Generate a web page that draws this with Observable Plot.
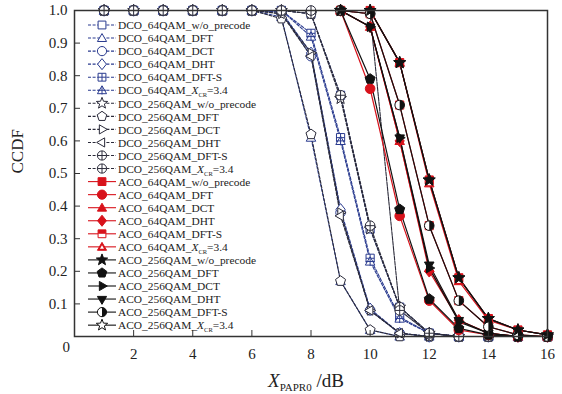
<!DOCTYPE html>
<html>
<head>
<meta charset="utf-8">
<script src="https://cdn.jsdelivr.net/npm/d3@7"></script>
<script src="https://cdn.jsdelivr.net/npm/@observablehq/plot@0.6"></script>
<style>
  html, body { margin: 0; padding: 0; background: #fff; }
  #chart { width: 562px; height: 394px; }
</style>
</head>
<body>
<div id="chart"></div>
<script>
// ---------- data ----------
const dcoX = [1,2,3,4,5,6,7,8,9,10,11,12,13,14,15,16];
const acoX = [9,10,11,12,13,14,15,16];

const dco64_wo   = [1,1,1,1,1,1,1,0.99,0.74,0.33,0.09,0.01,0,0,0,0];
const dco64_dft  = [1,1,1,1,1,1,0.98,0.61,0.17,0.02,0,0,0,0,0,0];
const dco64_dct  = [1,1,1,1,1,1,0.995,0.86,0.38,0.08,0.01,0,0,0,0,0];
const dco64_dht  = [1,1,1,1,1,1,0.995,0.87,0.39,0.085,0.01,0,0,0,0,0];
const dco64_dfts = [1,1,1,1,1,1,1,0.93,0.61,0.24,0.06,0.01,0,0,0,0];
const dco64_xcr  = [1,1,1,1,1,1,1,0.92,0.60,0.23,0.055,0.01,0,0,0,0];
const dco256_wo   = [1,1,1,1,1,1,1,0.99,0.73,0.33,0.09,0.01,0,0,0,0];
const dco256_dft  = [1,1,1,1,1,1,0.975,0.62,0.17,0.02,0,0,0,0,0,0];
const dco256_dct  = [1,1,1,1,1,1,0.99,0.87,0.38,0.08,0.01,0,0,0,0,0];
const dco256_dht  = [1,1,1,1,1,1,0.99,0.86,0.37,0.08,0.01,0,0,0,0,0];
const dco256_dfts = [1,1,1,1,1,1,1,0.99,0.74,0.34,0.09,0.01,0,0,0,0];
const dco256_xcr  = [1,1,1,1,1,1,1,1,1,0.99,0.08,0.01,0,0,0,0];

const aco64_wo   = [1,1,0.84,0.48,0.18,0.055,0.02,0.005];
const aco64_dft  = [1,0.76,0.37,0.11,0.02,0.005,0,0];
const aco64_dct  = [1,0.95,0.60,0.21,0.05,0.01,0,0];
const aco64_dht  = [1,0.95,0.60,0.20,0.05,0.01,0,0];
const aco64_dfts = [1,0.99,0.71,0.34,0.11,0.03,0.005,0];
const aco64_xcr  = [1,1,0.84,0.47,0.17,0.05,0.02,0.005];
const aco256_wo   = [1,1,0.84,0.48,0.18,0.055,0.02,0.005];
const aco256_dft  = [1,0.79,0.39,0.115,0.025,0.005,0,0];
const aco256_dct  = [1,0.95,0.61,0.21,0.045,0.01,0,0];
const aco256_dht  = [1,0.95,0.61,0.22,0.05,0.01,0,0];
const aco256_dfts = [1,0.99,0.71,0.34,0.11,0.03,0.005,0];
const aco256_xcr  = [1,1,0.84,0.48,0.18,0.055,0.02,0.005];

const seriesNames = [
  "DCO_64QAM_w/o_precode","DCO_64QAM_DFT","DCO_64QAM_DCT","DCO_64QAM_DHT","DCO_64QAM_DFT-S","DCO_64QAM_XCR=3.4",
  "DCO_256QAM_w/o_precode","DCO_256QAM_DFT","DCO_256QAM_DCT","DCO_256QAM_DHT","DCO_256QAM_DFT-S","DCO_256QAM_XCR=3.4",
  "ACO_64QAM_w/o_precode","ACO_64QAM_DFT","ACO_64QAM_DCT","ACO_64QAM_DHT","ACO_64QAM_DFT-S","ACO_64QAM_XCR=3.4",
  "ACO_256QAM_w/o_precode","ACO_256QAM_DFT","ACO_256QAM_DCT","ACO_256QAM_DHT","ACO_256QAM_DFT-S","ACO_256QAM_XCR=3.4"
];
const xTicks = [2,4,6,8,10,12,14,16];
const yTicks = [0.1,0.2,0.3,0.4,0.5,0.6,0.7,0.8,0.9,1.0];

// ---------- symbols ----------
const rad = s => Math.sqrt(s / Math.PI);
const poly = (c, pts) => { c.moveTo(pts[0][0], pts[0][1]); for (let i = 1; i < pts.length; i++) c.lineTo(pts[i][0], pts[i][1]); c.closePath(); };
const reg = (n, r, rot) => d3.range(n).map(i => { const a = rot + i * 2 * Math.PI / n; return [r * Math.cos(a), r * Math.sin(a)]; });
const cross = (c, r) => { c.moveTo(-r, 0); c.lineTo(r, 0); c.moveTo(0, -r); c.lineTo(0, r); };
const SYM = {
  square:   {draw(c,s){const r=rad(s)*0.85; c.rect(-r,-r,2*r,2*r);}},
  squarePlus:{draw(c,s){const r=rad(s)*0.85; c.rect(-r,-r,2*r,2*r); cross(c,r);}},
  topHalf:  {draw(c,s){const r=rad(s)*0.85; c.rect(-r,-r,2*r,r);}},
  triUp:    {draw(c,s){const r=rad(s)*1.15; poly(c, reg(3, r, -Math.PI/2).map(p=>[p[0],p[1]+r*0.15]));}},
  triUpPlus:{draw(c,s){const r=rad(s)*1.15; poly(c, reg(3, r, -Math.PI/2).map(p=>[p[0],p[1]+r*0.15])); cross(c, r*0.8);}},
  triInner: {draw(c,s){const r=rad(s)*0.5; poly(c, reg(3, r, -Math.PI/2).map(p=>[p[0],p[1]+r*0.3]));}},
  triRight: {draw(c,s){const r=rad(s)*1.15; poly(c, reg(3, r, 0));}},
  triLeft:  {draw(c,s){const r=rad(s)*1.15; poly(c, reg(3, r, Math.PI));}},
  triDown:  {draw(c,s){const r=rad(s)*1.15; poly(c, reg(3, r, Math.PI/2));}},
  circle:   {draw(c,s){const r=rad(s); c.moveTo(r,0); c.arc(0,0,r,0,2*Math.PI);}},
  circlePlus:{draw(c,s){const r=rad(s); c.moveTo(r,0); c.arc(0,0,r,0,2*Math.PI); cross(c,r);}},
  halfRight:{draw(c,s){const r=rad(s); c.moveTo(0,-r); c.arc(0,0,r,-Math.PI/2,Math.PI/2); c.closePath();}},
  diamond:  {draw(c,s){const r=rad(s)*1.2; poly(c, [[0,-r],[r*0.8,0],[0,r],[-r*0.8,0]]);}},
  pentagon: {draw(c,s){const r=rad(s)*1.1; poly(c, reg(5, r, -Math.PI/2));}},
  star:     {draw(c,s){const r=rad(s)*1.3; const pts=d3.range(10).map(i=>{const a=-Math.PI/2+i*Math.PI/5; const rr=i%2?r*0.42:r; return [rr*Math.cos(a), rr*Math.sin(a)];}); poly(c, pts);}}
};

// ---------- series styling ----------
const BLUE = "#2a3b8f", DARK = "#2b2b3a", RED = "#d8121b", BLACK = "#111";
const dcoDash = "3,1.6";
const series = [
  {y: dco64_wo,   x: dcoX, line: BLUE, dash: dcoDash, sym: "square",     stroke: BLUE, fill: "white"},
  {y: dco64_dft,  x: dcoX, line: BLUE, dash: dcoDash, sym: "triUp",      stroke: BLUE, fill: "white"},
  {y: dco64_dct,  x: dcoX, line: BLUE, dash: dcoDash, sym: "circle",     stroke: BLUE, fill: "white"},
  {y: dco64_dht,  x: dcoX, line: BLUE, dash: dcoDash, sym: "diamond",    stroke: BLUE, fill: "white"},
  {y: dco64_dfts, x: dcoX, line: BLUE, dash: dcoDash, sym: "squarePlus", stroke: BLUE, fill: "white"},
  {y: dco64_xcr,  x: dcoX, line: BLUE, dash: dcoDash, sym: "triUpPlus",  stroke: BLUE, fill: "white"},
  {y: dco256_wo,   x: dcoX, line: DARK, dash: dcoDash, sym: "star",       stroke: DARK, fill: "white"},
  {y: dco256_dft,  x: dcoX, line: DARK, dash: dcoDash, sym: "pentagon",   stroke: DARK, fill: "white"},
  {y: dco256_dct,  x: dcoX, line: DARK, dash: dcoDash, sym: "triRight",   stroke: DARK, fill: "white"},
  {y: dco256_dht,  x: dcoX, line: DARK, dash: dcoDash, sym: "triLeft",    stroke: DARK, fill: "white"},
  {y: dco256_dfts, x: dcoX, line: DARK, dash: dcoDash, sym: "circlePlus", stroke: DARK, fill: "white"},
  {y: dco256_xcr,  x: dcoX, line: DARK, dash: "4,1", sym: "circlePlus", stroke: DARK, fill: "white"},
  {y: aco64_wo,   x: acoX, line: RED, dash: null, sym: "square",   stroke: RED, fill: RED},
  {y: aco64_dft,  x: acoX, line: RED, dash: null, sym: "circle",   stroke: RED, fill: RED},
  {y: aco64_dct,  x: acoX, line: RED, dash: null, sym: "triUp",    stroke: RED, fill: RED},
  {y: aco64_dht,  x: acoX, line: RED, dash: null, sym: "diamond",  stroke: RED, fill: RED},
  {y: aco64_dfts, x: acoX, line: RED, dash: null, sym: "square",   stroke: RED, fill: "white", over: "topHalf", overFill: RED},
  {y: aco64_xcr,  x: acoX, line: RED, dash: null, sym: "triUp",    stroke: RED, fill: RED, over: "triInner", overFill: "white"},
  {y: aco256_wo,   x: acoX, line: BLACK, dash: null, sym: "star",     stroke: BLACK, fill: BLACK},
  {y: aco256_dft,  x: acoX, line: BLACK, dash: null, sym: "pentagon", stroke: BLACK, fill: BLACK},
  {y: aco256_dct,  x: acoX, line: BLACK, dash: null, sym: "triRight", stroke: BLACK, fill: BLACK},
  {y: aco256_dht,  x: acoX, line: BLACK, dash: null, sym: "triDown",  stroke: BLACK, fill: BLACK},
  {y: aco256_dfts, x: acoX, line: BLACK, dash: null, sym: "circle",   stroke: BLACK, fill: "white", over: "halfRight", overFill: BLACK},
  {y: aco256_xcr,  x: acoX, line: BLACK, dash: null, sym: "star",     stroke: BLACK, fill: "white"}
];
// drawing order: the filled ACO_256QAM star sits on top of the outlined one
const drawOrder = [0,1,2,3,4,5,6,7,8,9,10,11,12,13,14,15,16,17,23,19,20,21,22,18];

const marks = [];
drawOrder.forEach(i => {
  const s = series[i];
  const pts = s.x.map((x, j) => ({x, y: s.y[j]}));
  marks.push(Plot.line(pts, {x: "x", y: "y", stroke: s.line, strokeWidth: s.dash ? 1.1 : 1.2, strokeDasharray: s.dash || undefined}));
});
drawOrder.forEach(i => {
  const s = series[i];
  const pts = s.x.map((x, j) => ({x, y: s.y[j]}));
  marks.push(Plot.dot(pts, {x: "x", y: "y", r: 4.8, symbol: SYM[s.sym], stroke: s.stroke, fill: s.fill, strokeWidth: 1}));
  if (s.over) marks.push(Plot.dot(pts, {x: "x", y: "y", r: 4.8, symbol: SYM[s.over], fill: s.overFill, stroke: "none"}));
});

const chart = Plot.plot({
  width: 562, height: 394,
  marginTop: 10, marginBottom: 58, marginLeft: 74, marginRight: 15,
  x: {domain: [0, 16]},
  y: {domain: [0, 1]},
  style: {fontFamily: "Liberation Serif, Times New Roman, serif", fontSize: "15px", color: "#222", background: "white"},
  marks: [
    ...marks,
    Plot.axisX(xTicks, {tickSize: -6, stroke: "#333", text: null, label: null}),
    Plot.axisX(xTicks, {tickSize: 0, tickPadding: 12, fontSize: 15, label: null}),
    Plot.axisY(yTicks, {tickSize: -6, stroke: "#333", text: null, label: null}),
    Plot.axisY(yTicks, {tickSize: 0, tickPadding: 7, tickFormat: d3.format(".1f"), fontSize: 15, label: null}),
    Plot.text(["0"], {frameAnchor: "bottom-left", dx: -12, dy: 15, fontSize: 15, fill: "#222"}),
    Plot.text(["CCDF"], {frameAnchor: "left", dx: -57, rotate: -90, fontSize: 17, fill: "#222"}),
    Plot.frame({stroke: "#333", strokeWidth: 1.5})
  ]
});
document.getElementById("chart").appendChild(chart);

// ---------- legend & x label ----------
const svg = d3.select(chart);
const lg = svg.append("g").attr("font-family", "Liberation Serif, Times New Roman, serif").attr("font-size", 11.4).attr("fill", "#222").attr("text-anchor", "start");
seriesNames.forEach((name, i) => {
  const s = series[i];
  const y = 25 + i * 13.05;
  const row = lg.append("g").attr("transform", `translate(0,${y})`);
  row.append("line").attr("x1", 88).attr("x2", 116).attr("y1", 0).attr("y2", 0)
    .attr("stroke", s.line).attr("stroke-width", 1.1).attr("stroke-dasharray", s.dash ? "3,1.6" : null);
  const sz = Math.PI * 4.6 * 4.6;
  row.append("path").attr("transform", "translate(102,0)").attr("d", d3.symbol(SYM[s.sym], sz)())
    .attr("fill", s.fill).attr("stroke", s.stroke).attr("stroke-width", 1);
  if (s.over) row.append("path").attr("transform", "translate(102,0)").attr("d", d3.symbol(SYM[s.over], sz)()).attr("fill", s.overFill);
  const t = row.append("text").attr("x", 118).attr("y", 4.2).attr("text-anchor", "start");
  if (name.endsWith("XCR=3.4")) {
    t.append("tspan").text(name.replace("XCR=3.4", ""));
    t.append("tspan").attr("font-style", "italic").text("X");
    t.append("tspan").attr("font-size", 6.5).attr("dy", 3).text("CR");
    t.append("tspan").attr("dy", -3).text("=3.4");
  } else {
    t.text(name);
  }
});
const xl = svg.append("text").attr("x", 306).attr("y", 387).attr("text-anchor", "middle")
  .attr("font-family", "Liberation Serif, Times New Roman, serif").attr("font-size", 19).attr("fill", "#222");
xl.append("tspan").attr("font-style", "italic").text("X");
xl.append("tspan").attr("font-size", 11).attr("dy", 4).text("PAPR0");
xl.append("tspan").attr("dy", -4).text(" /dB");
</script>
</body>
</html>
